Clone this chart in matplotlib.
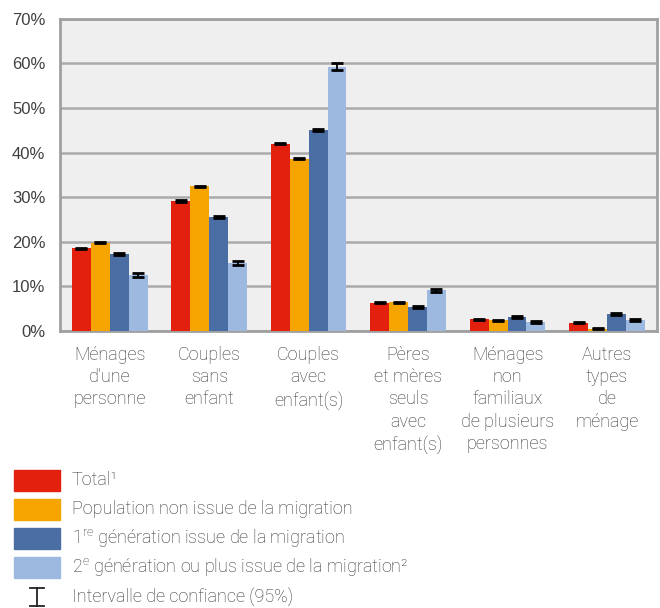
"""
Household types by migration status
"""
import numpy as np
import matplotlib
matplotlib.use("Agg")
import matplotlib.pyplot as plt
from matplotlib.patches import Rectangle
from matplotlib.ticker import FuncFormatter

plt.rcParams['font.family'] = ['Roboto', 'DejaVu Sans']
plt.rcParams['font.weight'] = 'light'
plt.rcParams['mathtext.fontset'] = 'custom'
plt.rcParams['mathtext.rm'] = 'Roboto:light'

# categories (x axis)
categories = ["Ménages\nd'une\npersonne", "Couples\nsans\nenfant", "Couples\navec\nenfant(s)",
              "Pères\net mères\nseuls\navec\nenfant(s)", "Ménages\nnon\nfamiliaux\nde plusieurs\npersonnes",
              "Autres\ntypes\nde\nménage"]

# series values in %
total = [18.5, 29.1, 42.0, 6.3, 2.6, 1.8]
non_migr = [19.8, 32.4, 38.6, 6.4, 2.4, 0.5]
gen1 = [17.2, 25.6, 45.1, 5.3, 3.1, 3.8]
gen2 = [12.5, 15.2, 59.3, 9.1, 1.9, 2.4]

# 95% confidence half-widths
err_total = [0.15, 0.15, 0.15, 0.15, 0.1, 0.1]
err_non_migr = [0.15, 0.15, 0.15, 0.15, 0.1, 0.1]
err_gen1 = [0.2, 0.2, 0.25, 0.2, 0.15, 0.2]
err_gen2 = [0.35, 0.4, 0.8, 0.35, 0.2, 0.3]

series_labels = ["Total¹", "Population non issue de la migration",
                 "1$^{\\mathrm{re}}$ génération issue de la migration",
                 "2$^{\\mathrm{e}}$ génération ou plus issue de la migration²"]
colors = ['#e31f0d', '#f6a500', '#4a6da3', '#9db9e0']
txtcol = '#333333'
fs = 13

fig = plt.figure(figsize=(6.6, 6.08), dpi=100)
ax = fig.add_axes([0.091, 0.456, 0.904, 0.513])
ax.set_facecolor('#efefef')

x = np.arange(len(categories))
w = 0.19
allvals = [total, non_migr, gen1, gen2]
allerr = [err_total, err_non_migr, err_gen1, err_gen2]
for i in range(4):
    pos = x + (i - 1.5) * w
    ax.bar(pos, allvals[i], w, color=colors[i], zorder=3)
    ax.errorbar(pos, allvals[i], yerr=allerr[i], fmt='none', ecolor='black',
                elinewidth=1.3, capsize=4.5, capthick=2, zorder=4)

ax.set_xlim(-0.5, 5.5)
ax.set_ylim(0, 70)
ax.set_yticks(np.arange(0, 71, 10))
ax.yaxis.set_major_formatter(FuncFormatter(lambda v, p: '%d%%' % v))
ax.grid(axis='y', color='#aaaaaa', linewidth=1.8, zorder=0)
for s in ax.spines.values():
    s.set_color('#a0a0a0')
    s.set_linewidth(2)
ax.tick_params(axis='y', length=0, labelsize=12, labelcolor='#404040', pad=10.5)
for lbl in ax.get_yticklabels():
    lbl.set_family('Liberation Sans')
    lbl.set_weight('normal')
ax.set_xticks(x)
ax.set_xticklabels(categories, fontsize=fs, color=txtcol, linespacing=1.3,
                   va='top')
ax.tick_params(axis='x', length=0, pad=11)

# legend drawn by hand
rows_y = [480, 509, 538, 567]
for i in range(4):
    yc = rows_y[i]
    fig.add_artist(Rectangle((14 / 660, 1 - (yc + 10.5) / 608), 46 / 660, 21 / 608,
                             transform=fig.transFigure, color=colors[i]))
    fig.text(72 / 660, 1 - yc / 608, series_labels[i], fontsize=fs,
             color=txtcol, va='center')
# confidence interval symbol
ye = 597
fig.add_artist(plt.Line2D([37 / 660, 37 / 660], [1 - (ye - 9) / 608, 1 - (ye + 9) / 608],
                          transform=fig.transFigure, color='#222222', lw=1.3))
for yy in (ye - 9, ye + 9):
    fig.add_artist(plt.Line2D([30 / 660, 44 / 660], [1 - yy / 608, 1 - yy / 608],
                              transform=fig.transFigure, color='#222222', lw=1.3))
fig.text(72 / 660, 1 - ye / 608, "Intervalle de confiance (95%)", fontsize=fs,
         color=txtcol, va='center')

plt.savefig('out.png', dpi=100)
